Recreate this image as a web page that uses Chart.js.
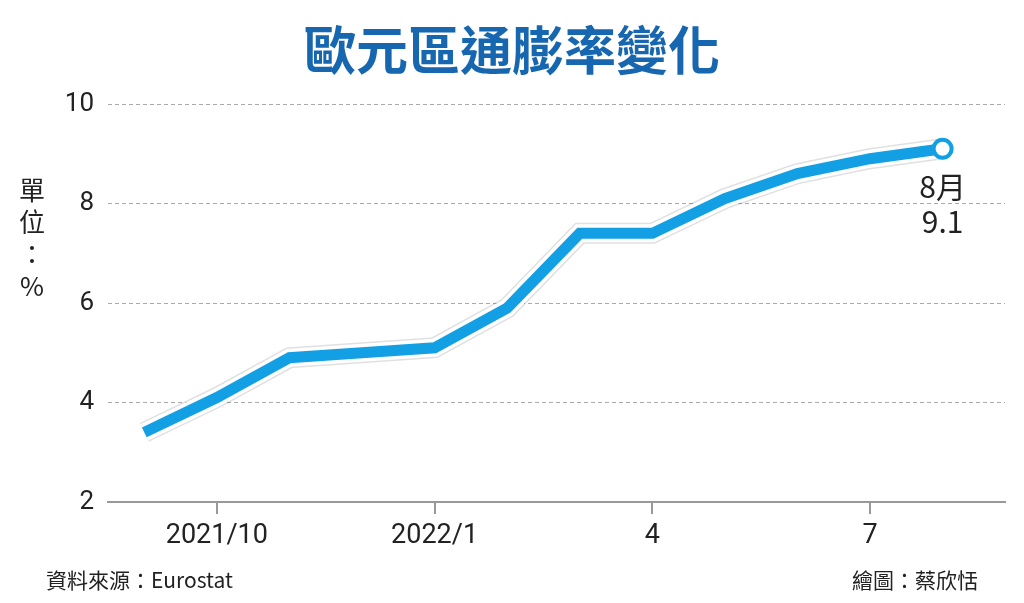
<!DOCTYPE html>
<html><head><meta charset="utf-8">
<script src="https://cdn.jsdelivr.net/npm/chart.js@4"></script>
<style>html,body{margin:0;background:#fff}#w{width:1024px;height:603px}</style>
</head><body><div id="w"><canvas id="c"></canvas></div>
<script>
const months=['2021/9','2021/10','2021/11','2021/12','2022/1','2022/2','2022/3','2022/4','2022/5','2022/6','2022/7','2022/8'];
const values=[3.4,4.1,4.9,5.0,5.1,5.9,7.4,7.4,8.1,8.6,8.9,9.1];
const tickLabels={1:'2021/10',4:'2022/1',7:'4',10:'7'};
const pts=values.map((v,i)=>({x:i,y:v}));
const blue='#139fe3';
const deco={id:'deco',afterDraw(ch){const c=ch.ctx;c.save();
c.fillStyle='#1766b0';c.font='bold 52px "Noto Sans CJK TC"';c.textAlign='center';c.textBaseline='middle';c.fillText('歐元區通膨率變化',512,50);
c.fillStyle='#222';c.font='26px "Noto Sans CJK TC"';
['單','位','：','%'].forEach((t,i)=>c.fillText(t,32,190+i*32));
c.font='21px "Noto Sans CJK TC"';c.textAlign='left';c.fillText('資料來源：Eurostat',46,580);
c.textAlign='right';c.fillText('繪圖：蔡欣恬',978,580);
const m=ch.getDatasetMeta(2).data[values.length-1];
c.textAlign='center';c.font='30px "Noto Sans CJK TC"';c.fillStyle='#222';
c.fillText('8月',m.x,187);c.fillText(String(values[values.length-1]),m.x,222);
c.restore();}};
new Chart(document.getElementById('c'),{type:'line',
data:{datasets:[
{data:pts,order:3,borderColor:'rgba(0,0,0,0.12)',borderWidth:21,pointRadius:0,tension:0,borderJoinStyle:'miter'},
{data:pts,order:2,borderColor:'#fff',borderWidth:18,pointRadius:0,tension:0,borderJoinStyle:'miter'},
{data:pts,order:1,borderColor:blue,borderWidth:11,tension:0,borderJoinStyle:'miter',
 pointRadius:values.map((v,i)=>i===values.length-1?9:0),pointBackgroundColor:'#fff',pointBorderColor:blue,pointBorderWidth:4}]},
options:{responsive:true,maintainAspectRatio:false,animation:false,
layout:{padding:{left:0,top:104,right:19,bottom:0}},
plugins:{legend:{display:false},tooltip:{enabled:false}},
scales:{
x:{type:'linear',min:-0.5,max:11.86,
 afterBuildTicks:s=>{s.ticks=[1,4,7,10].map(v=>({value:v}));},
 afterFit:s=>{s.height=101;},
 ticks:{callback:v=>tickLabels[v]||'',color:'#222',font:{size:27,family:'Roboto'},padding:6,autoSkip:false,maxRotation:0},
 grid:{drawOnChartArea:false,drawTicks:true,tickLength:12,color:'#999',lineWidth:2},
 border:{color:'#999',width:2}},
y:{min:2,max:10,
 afterBuildTicks:s=>{s.ticks=[2,4,6,8,10].map(v=>({value:v}));},
 afterFit:s=>{s.width=108;},
 ticks:{color:'#222',font:{size:26,family:'Roboto'},padding:14},
 grid:{color:'#aaa',lineWidth:1,drawTicks:false},
 border:{display:false,dash:[4,3]}}}},
plugins:[deco]});
</script></body></html>
